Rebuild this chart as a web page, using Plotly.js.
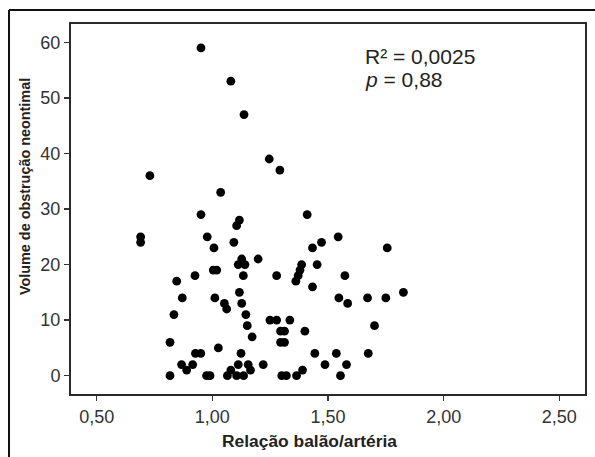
<!DOCTYPE html>
<html>
<head>
<meta charset="utf-8">
<script src="https://cdn.plot.ly/plotly-3.0.1.min.js"></script>
<style>html,body{margin:0;padding:0;background:#fff;}#chart{width:595px;height:457px;}</style>
</head>
<body>
<div id="chart"></div>
<script>
// Relação balão/artéria (x) vs Volume de obstrução neointimal (y)
var balloonRatio = [
  0.69, 0.69, 0.73, 0.817, 0.817, 0.834, 0.846, 0.870, 0.867, 0.889,
  0.915, 0.925, 0.927, 0.950, 0.951, 0.951, 0.975, 0.990, 0.978, 1.004,
  1.019, 1.007, 1.011, 1.026, 1.036, 1.052, 1.062, 1.065, 1.080, 1.080,
  1.093, 1.105, 1.117, 1.105, 1.135, 1.112, 1.155, 1.165, 1.124, 1.117,
  1.127, 1.145, 1.151, 1.172, 1.134, 1.112, 1.127, 1.141, 1.137, 1.198,
  1.220, 1.246, 1.292, 1.249, 1.278, 1.335, 1.278, 1.295, 1.312, 1.295,
  1.312, 1.300, 1.320, 1.364, 1.390, 1.400, 1.361, 1.371, 1.379, 1.386,
  1.410, 1.433, 1.472, 1.453, 1.433, 1.443, 1.487, 1.536, 1.544, 1.547,
  1.554, 1.573, 1.585, 1.580, 1.671, 1.674, 1.701, 1.750, 1.756, 1.826
];
var obstructionVolume = [
  25, 24, 36, 6, 0, 11, 17, 14, 2, 1,
  2, 18, 4, 4, 59, 29, 0, 0, 25, 19,
  19, 23, 14, 5, 33, 13, 12, 0, 1, 53,
  24, 27, 28, 0, 0, 2, 2, 1, 4, 15,
  13, 11, 9, 7, 18, 20, 21, 20, 47, 21,
  2, 39, 37, 10, 10, 10, 18, 8, 8, 6,
  6, 0, 0, 0, 1, 8, 17, 18, 19, 20,
  29, 23, 24, 20, 16, 4, 2, 4, 25, 14,
  0, 18, 13, 2, 14, 4, 9, 14, 23, 15
];
var xTickVals = [0.5, 1.0, 1.5, 2.0, 2.5];
var xTickText = ["0,50", "1,00", "1,50", "2,00", "2,50"];
var yTickVals = [0, 10, 20, 30, 40, 50, 60];
var statLines = ["R² = 0,0025", "<i>p</i> = 0,88"];
var xTitle = "Relação balão/artéria";
var yTitle = "Volume de obstrução neontimal";

var titleFont = {family: "'Liberation Sans', Arial, sans-serif", color: "#222"};

var trace = {
  type: "scatter",
  mode: "markers",
  x: balloonRatio,
  y: obstructionVolume,
  marker: {color: "#000", size: 8.8, line: {width: 0}},
  hoverinfo: "x+y"
};

var layout = {
  width: 595,
  height: 457,
  margin: {l: 71, r: 10, t: 24, b: 63, pad: 0},
  paper_bgcolor: "#fff",
  plot_bgcolor: "#fff",
  showlegend: false,
  font: {family: "'Liberation Sans', Arial, Helvetica, sans-serif", color: "#222"},
  xaxis: {
    range: [0.389, 2.611],
    tickmode: "array",
    tickvals: xTickVals,
    ticktext: xTickText,
    ticks: "outside",
    ticklen: 5,
    tickwidth: 1.5,
    tickcolor: "#333",
    tickfont: {size: 18, color: "#333"},
    showline: true,
    linecolor: "#2a2a2a",
    linewidth: 2,
    mirror: true,
    showgrid: false,
    zeroline: false
  },
  yaxis: {
    range: [-3.3, 63.3],
    tickmode: "array",
    tickvals: yTickVals,
    ticks: "outside",
    ticklen: 5,
    tickwidth: 1.5,
    tickcolor: "#333",
    tickfont: {size: 18, color: "#333"},
    showline: true,
    linecolor: "#2a2a2a",
    linewidth: 2,
    mirror: true,
    showgrid: false,
    zeroline: false
  },
  shapes: [
    {type: "line", xref: "paper", yref: "paper", x0: -0.1206, x1: -0.1206, y0: -0.3, y1: 1.0378, line: {color: "#111", width: 2}},
    {type: "line", xref: "paper", yref: "paper", x0: -0.1206, x1: 1.1, y0: 1.0378, y1: 1.0378, line: {color: "#111", width: 2}}
  ],
  annotations: [
    {text: statLines[0], xref: "paper", yref: "paper", x: 0.568, y: 0.911, xanchor: "left", yanchor: "middle", showarrow: false, font: {size: 21, color: "#222"}},
    {text: statLines[1], xref: "paper", yref: "paper", x: 0.568, y: 0.849, xanchor: "left", yanchor: "middle", showarrow: false, font: {size: 21, color: "#222"}},
    {text: "<b>" + xTitle + "</b>", xref: "paper", yref: "paper", x: 0.464, y: -0.127, xanchor: "center", yanchor: "middle", showarrow: false, font: Object.assign({size: 17.4}, titleFont)},
    {text: "<b>" + yTitle + "</b>", xref: "paper", yref: "paper", x: -0.0895, y: 0.562, xanchor: "center", yanchor: "middle", textangle: -90, showarrow: false, font: Object.assign({size: 14.4}, titleFont)}
  ]
};

Plotly.newPlot("chart", [trace], layout, {displayModeBar: false, staticPlot: true});
</script>
</body>
</html>
